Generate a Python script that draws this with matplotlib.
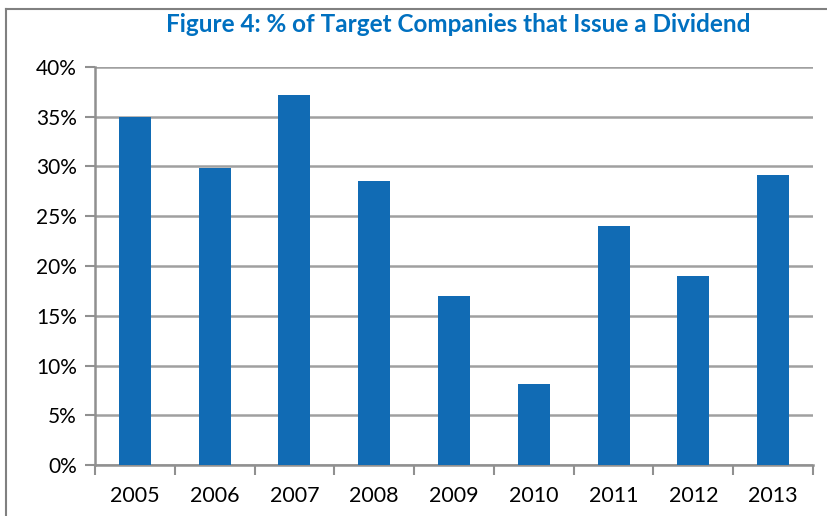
import matplotlib.pyplot as plt
from matplotlib.lines import Line2D
import numpy as np

years = ["2005", "2006", "2007", "2008", "2009", "2010", "2011", "2012", "2013"]
pct = [35.0, 29.8, 37.2, 28.5, 17.0, 8.1, 24.0, 19.0, 29.1]
yticks = [0, 5, 10, 15, 20, 25, 30, 35, 40]

plt.rcParams['font.family'] = ['Lato', 'DejaVu Sans']

fig = plt.figure(figsize=(8.28, 5.16), dpi=100)
ax = fig.add_axes([95 / 828, 51 / 516, 718 / 828, 398 / 516])

x = np.arange(len(years))
ax.bar(x, pct, width=0.4, color="#116BB4", zorder=3)

ax.set_xlim(-0.5, len(years) - 0.5)
ax.set_ylim(0, 40)
ax.set_yticks(yticks)
ax.set_yticklabels([f"{v}%" for v in yticks])
ax.yaxis.grid(True, color="#A0A0A0", linewidth=1.8, zorder=0)

# category ticks sit on boundaries, labels in the middle
ax.set_xticks(np.arange(len(years) + 1) - 0.5)
ax.set_xticklabels([])
ax.set_xticks(x, minor=True)
ax.set_xticklabels(years, minor=True)
ax.tick_params(axis="x", which="major", length=7, width=1.5, color="#909090")
ax.tick_params(axis="x", which="minor", length=0, pad=15, labelsize=15.5)
ax.tick_params(axis="y", length=7, width=1.5, color="#909090", labelsize=15, pad=6)

for side in ["top", "right"]:
    ax.spines[side].set_visible(False)
for side in ["left", "bottom"]:
    ax.spines[side].set_color("#909090")
    ax.spines[side].set_linewidth(1.8)

fig.text(458 / 828, 1 - 25 / 516, "Figure 4: % of Target Companies that Issue a Dividend",
         ha="center", va="center", fontsize=17.5, fontweight="bold", color="#0070C0")

# outer chart frame (only top and left are visible in the crop)
fig.add_artist(Line2D([6 / 828, 1], [1 - 9 / 516, 1 - 9 / 516], color="#808080", linewidth=1.5))
fig.add_artist(Line2D([6 / 828, 6 / 828], [0, 1 - 9 / 516], color="#808080", linewidth=1.5))

fig.savefig("out.png", dpi=100)
